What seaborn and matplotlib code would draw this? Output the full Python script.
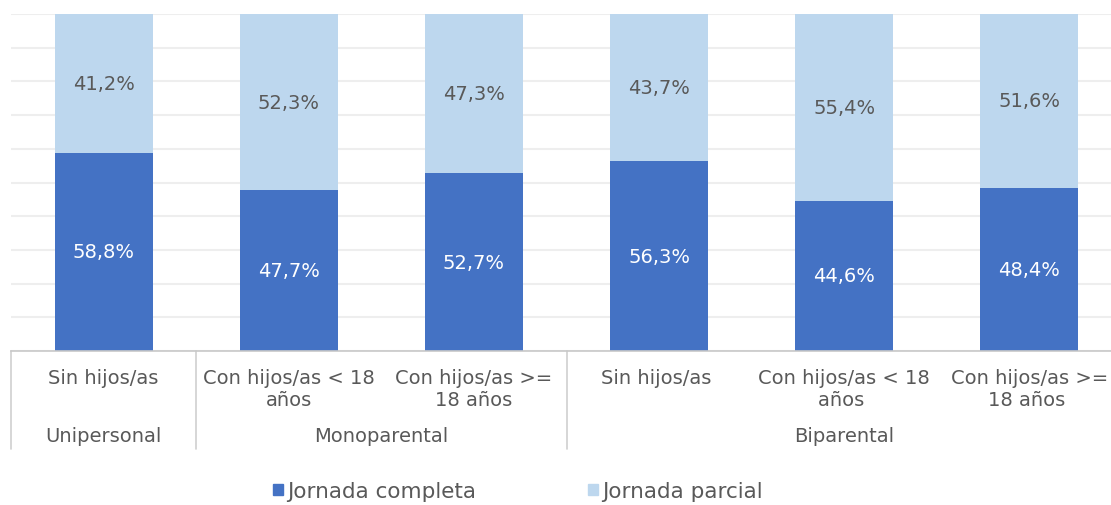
import matplotlib
matplotlib.use("Agg")
import matplotlib.pyplot as plt
import matplotlib.transforms as mtransforms
from matplotlib.patches import Patch
import seaborn as sns
import pandas as pd

# ---- data ----
categories = ["Sin hijos/as", "Con hijos/as < 18\naños", "Con hijos/as >=\n18 años",
              "Sin hijos/as ", "Con hijos/as < 18\naños ", "Con hijos/as >=\n18 años "]
groups = ["Unipersonal", "Monoparental", "Biparental"]
group_sizes = [1, 2, 3]
completa = [58.8, 47.7, 52.7, 56.3, 44.6, 48.4]
parcial = [41.2, 52.3, 47.3, 43.7, 55.4, 51.6]
series_names = ["Jornada completa", "Jornada parcial"]

c_dark = "#4472C4"
c_light = "#BDD7EE"
txt = "#595959"

sns.set_theme(style="white")
plt.rcParams["font.family"] = ["DejaVu Sans"]

df = pd.DataFrame({"cat": categories,
                   "completa": completa,
                   "total": [a + b for a, b in zip(completa, parcial)]})

fig = plt.figure(figsize=(11.11, 5.06), dpi=100)
ax = fig.add_axes([11 / 1111, 1 - 352 / 506, 1111 / 1111, (352 - 15) / 506])

sns.barplot(data=df, x="cat", y="total", color=c_light, width=0.53, ax=ax,
            saturation=1, order=categories, linewidth=0)
sns.barplot(data=df, x="cat", y="completa", color=c_dark, width=0.53, ax=ax,
            saturation=1, order=categories, linewidth=0)

ax.set_ylim(0, 100)
ax.set_xlim(-0.5, 5.5)
ax.set_yticks(range(0, 101, 10))
ax.yaxis.grid(True, color="#EEEEEE", linewidth=1.5)
ax.set_axisbelow(True)
ax.tick_params(axis="y", left=False, labelleft=False)
ax.set_xlabel("")
ax.set_ylabel("")
for s in ["top", "right", "left"]:
    ax.spines[s].set_visible(False)
ax.spines["bottom"].set_color("#C8C8C8")
ax.spines["bottom"].set_linewidth(1.2)

FS = 14
ax.set_xticks(range(len(categories)))
ax.set_xticklabels(categories, fontsize=FS, color=txt, linespacing=1.2)
ax.tick_params(axis="x", bottom=False, pad=6)
for lab in ax.get_xticklabels():
    lab.set_horizontalalignment("center")
    lab.set_verticalalignment("top")

def fmt(v):
    return f"{v:.1f}%".replace(".", ",")

for i, (c, p) in enumerate(zip(completa, parcial)):
    ax.text(i, c / 2, fmt(c), ha="center", va="center", color="white", fontsize=FS)
    ax.text(i, c + p / 2, fmt(p), ha="center", va="center", color=txt, fontsize=FS)

# multi-level category axis
trans = mtransforms.blended_transform_factory(ax.transData, ax.transAxes)
y_bottom = -(450 - 352) / (352 - 15)
y_group = -(437 - 352) / (352 - 15)
start = -0.5
seps = [start]
for g, n in zip(groups, group_sizes):
    mid = start + n / 2
    ax.text(mid, y_group, g, transform=trans, ha="center", va="center",
            fontsize=FS, color=txt)
    start += n
    seps.append(start)
for s in seps:
    ax.plot([s, s], [0, y_bottom], transform=trans, color="#D0D0D0",
            linewidth=1.2, clip_on=False)

handles = [Patch(color=c_dark), Patch(color=c_light)]
fig.legend(handles, series_names, loc="center", bbox_to_anchor=(518 / 1111, 1 - 492 / 506),
           ncol=2, frameon=False, fontsize=15.5, handlelength=0.45, handleheight=0.45,
           handletextpad=0.2, columnspacing=5.2, labelcolor=txt)

fig.savefig("out.png", dpi=100)
